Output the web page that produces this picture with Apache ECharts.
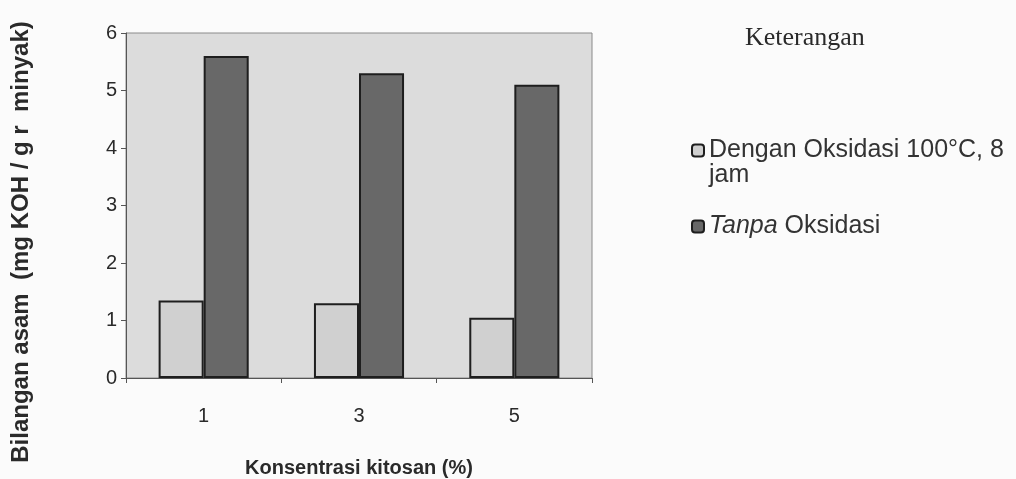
<!DOCTYPE html>
<html>
<head>
<meta charset="utf-8">
<script src="https://cdn.jsdelivr.net/npm/echarts@6/dist/echarts.min.js"></script>
<style>
html,body{margin:0;padding:0;background:#fbfbfb;}
#c{width:1016px;height:479px;}
</style>
</head>
<body>
<div id="c"></div>
<script>
var categories = ['1', '3', '5'];
var seriesNames = ['Dengan Oksidasi 100°C, 8\njam', 'Tanpa Oksidasi'];
var withOxidation = [1.35, 1.3, 1.05];
var withoutOxidation = [5.6, 5.3, 5.1];
var yTicks = [0, 1, 2, 3, 4, 5, 6];

var chart = echarts.init(document.getElementById('c'));
var FONT = '"Liberation Sans", Arial, sans-serif';
chart.setOption({
  backgroundColor: '#fbfbfb',
  animation: false,
  title: {
    text: 'Keterangan',
    left: 740, top: 20,
    textStyle: { fontFamily: '"Liberation Serif", "Times New Roman", serif', fontWeight: 'normal', fontSize: 26, color: '#2a2a2a' }
  },
  legend: {
    orient: 'vertical',
    left: 686, top: 108,
    itemWidth: 12, itemHeight: 12,
    itemGap: 26,
    data: [
      { name: seriesNames[0], textStyle: { padding: [25, 0, 0, 0] } },
      { name: seriesNames[1] }
    ],
    formatter: function (n) {
      if (n === 'Tanpa Oksidasi') return '{i|Tanpa} Oksidasi';
      return n;
    },
    textStyle: {
      fontFamily: FONT, fontSize: 25, color: '#333', lineHeight: 25,
      rich: { i: { fontStyle: 'italic', fontFamily: FONT, fontSize: 25, color: '#333' } }
    }
  },
  grid: {
    left: 126, right: 424, top: 33, bottom: 101,
    outerBoundsMode: 'none',
    containLabel: false,
    show: true, backgroundColor: '#dcdcdc', borderColor: '#8a8a8a', borderWidth: 1
  },
  xAxis: {
    type: 'category',
    data: categories,
    name: 'Konsentrasi kitosan (%)',
    nameLocation: 'middle',
    nameGap: 80,
    nameTextStyle: { fontFamily: FONT, fontWeight: 'bold', fontSize: 20, color: '#2a2a2a' },
    axisLine: { lineStyle: { color: '#555', width: 1 } },
    axisTick: { show: true, length: 5, lineStyle: { color: '#555' } },
    axisLabel: { fontFamily: FONT, fontSize: 20, color: '#2a2a2a', margin: 28 }
  },
  yAxis: {
    type: 'value',
    min: 0, max: 6, interval: 1,
    axisLine: { show: true, lineStyle: { color: '#555', width: 1 } },
    axisTick: { show: true, length: 5, lineStyle: { color: '#555' } },
    splitLine: { show: false },
    axisLabel: { fontFamily: FONT, fontSize: 20, color: '#2a2a2a', margin: 9,
      formatter: function (v) { return yTicks.indexOf(v) >= 0 ? String(v) : ''; } }
  },
  graphic: [{
    type: 'text',
    x: 21, y: 242,
    rotation: Math.PI / 2,
    style: {
      text: 'Bilangan asam  (mg KOH / g r  minyak)',
      fontFamily: FONT, fontWeight: 'bold', fontSize: 24, fill: '#2a2a2a',
      align: 'center', verticalAlign: 'middle'
    }
  }],
  series: [{
    name: seriesNames[0],
    type: 'bar',
    data: withOxidation,
    barGap: '0%',
    barCategoryGap: '42%',
    itemStyle: { color: '#d0d0d0', borderColor: '#1e1e1e', borderWidth: 2 }
  }, {
    name: seriesNames[1],
    type: 'bar',
    data: withoutOxidation,
    itemStyle: { color: '#686868', borderColor: '#1e1e1e', borderWidth: 2 }
  }]
});
</script>
</body>
</html>
